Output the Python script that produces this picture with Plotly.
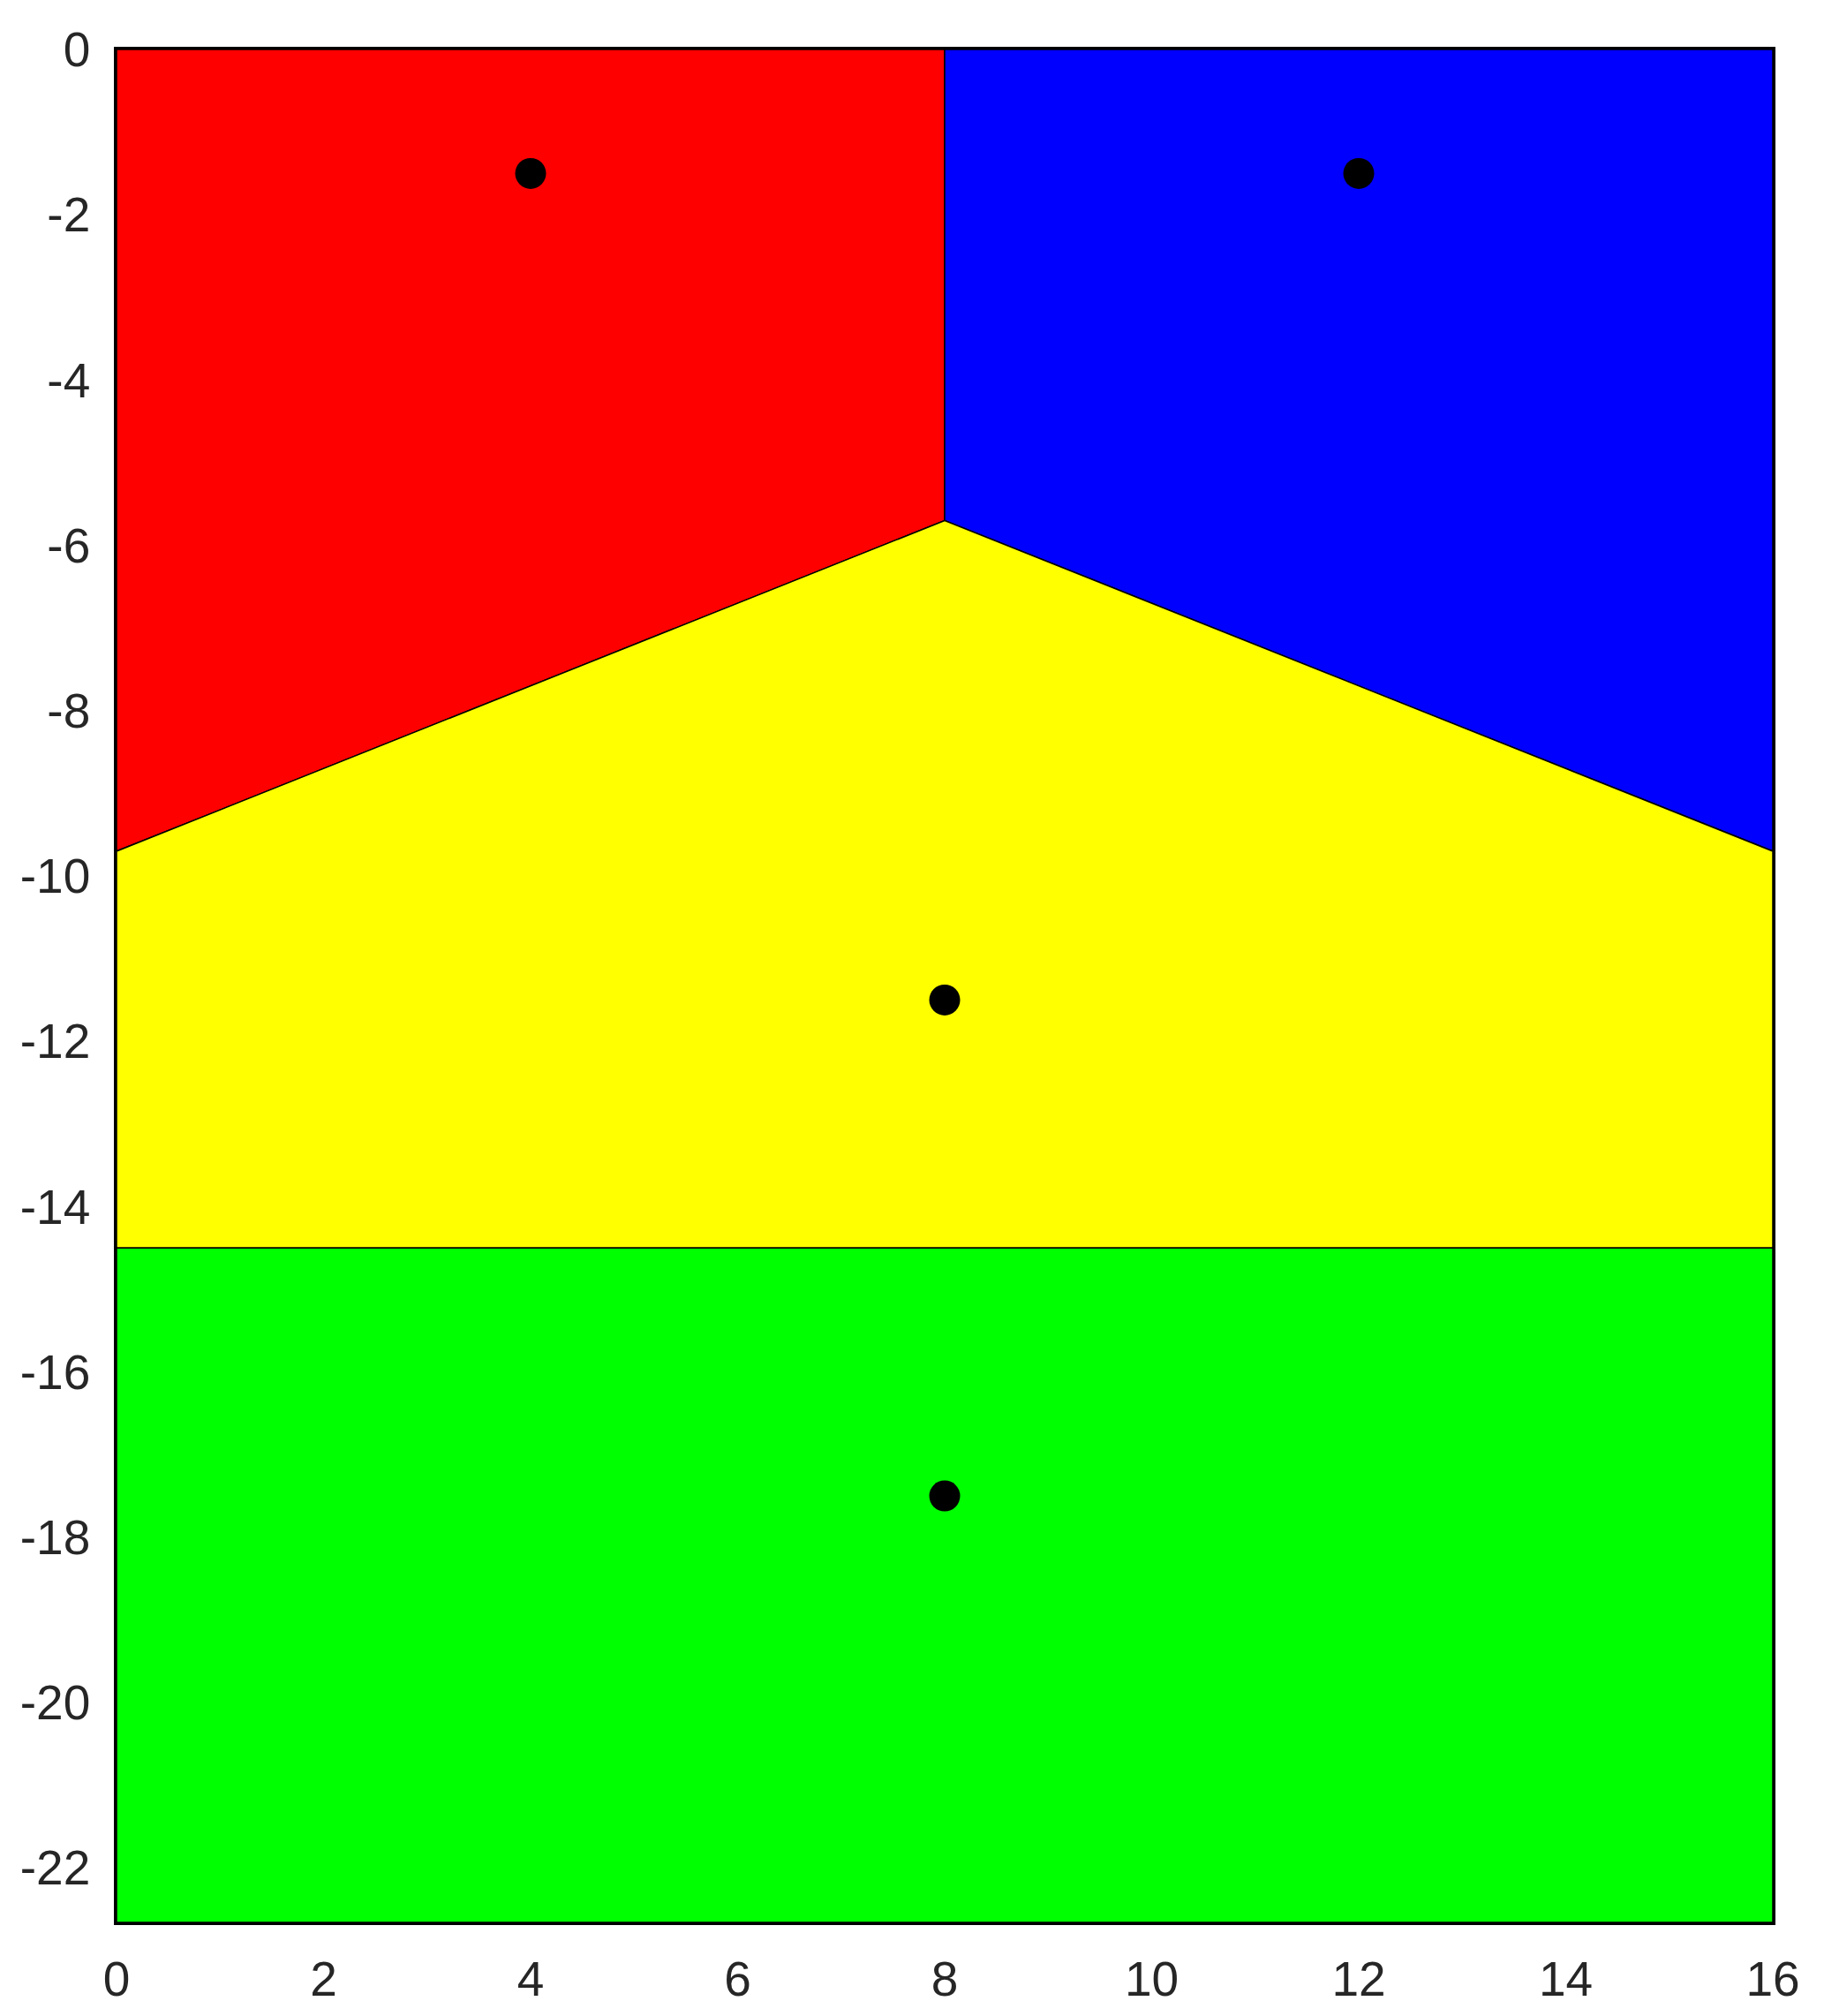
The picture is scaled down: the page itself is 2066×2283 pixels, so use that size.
import plotly.graph_objects as go

# Regiones (vértices de cada celda)
red_x = [0, 8, 8, 0]
red_y = [0, 0, -5.7, -9.7]
blue_x = [8, 16, 16, 8]
blue_y = [0, 0, -9.7, -5.7]
yellow_x = [0, 8, 16, 16, 0]
yellow_y = [-9.7, -5.7, -9.7, -14.5, -14.5]
green_x = [0, 16, 16, 0]
green_y = [-14.5, -14.5, -22.66, -22.66]

# Puntos semilla
seeds_x = [4, 12, 8, 8]
seeds_y = [-1.5, -1.5, -11.5, -17.5]

x_ticks = [0, 2, 4, 6, 8, 10, 12, 14, 16]
y_ticks = [0, -2, -4, -6, -8, -10, -12, -14, -16, -18, -20, -22]
y_labels = [str(v) for v in y_ticks]  # guion normal, como en el original

fig = go.Figure()

regions = [
    (red_x, red_y, "#ff0000"),
    (blue_x, blue_y, "#0000ff"),
    (yellow_x, yellow_y, "#ffff00"),
    (green_x, green_y, "#00ff00"),
]
for xs, ys, col in regions:
    fig.add_trace(go.Scatter(
        x=xs + [xs[0]], y=ys + [ys[0]],
        mode="lines", fill="toself", fillcolor=col,
        line=dict(color="black", width=1.5),
        hoverinfo="skip", showlegend=False
    ))

fig.add_trace(go.Scatter(
    x=seeds_x, y=seeds_y, mode="markers",
    marker=dict(size=35, color="black"),
    showlegend=False
))

axis_font = dict(family="Liberation Sans, Arial, sans-serif", size=55, color="#262626")

fig.update_layout(
    width=2052, height=2276,
    paper_bgcolor="white", plot_bgcolor="white",
    margin=dict(l=124, r=52, t=48, b=99),
    xaxis=dict(range=[0, 16], tickvals=x_ticks, ticks="", showgrid=False,
               zeroline=False, showline=True, linecolor="black", linewidth=2.5,
               mirror=True, tickfont=axis_font, ticklabelstandoff=14),
    yaxis=dict(range=[-22.66, 0], tickvals=y_ticks, ticktext=y_labels, ticks="",
               showgrid=False, zeroline=False, showline=True, linecolor="black",
               linewidth=2.5, mirror=True, tickfont=axis_font, ticklabelstandoff=16),
)

fig.write_html("out.html")
